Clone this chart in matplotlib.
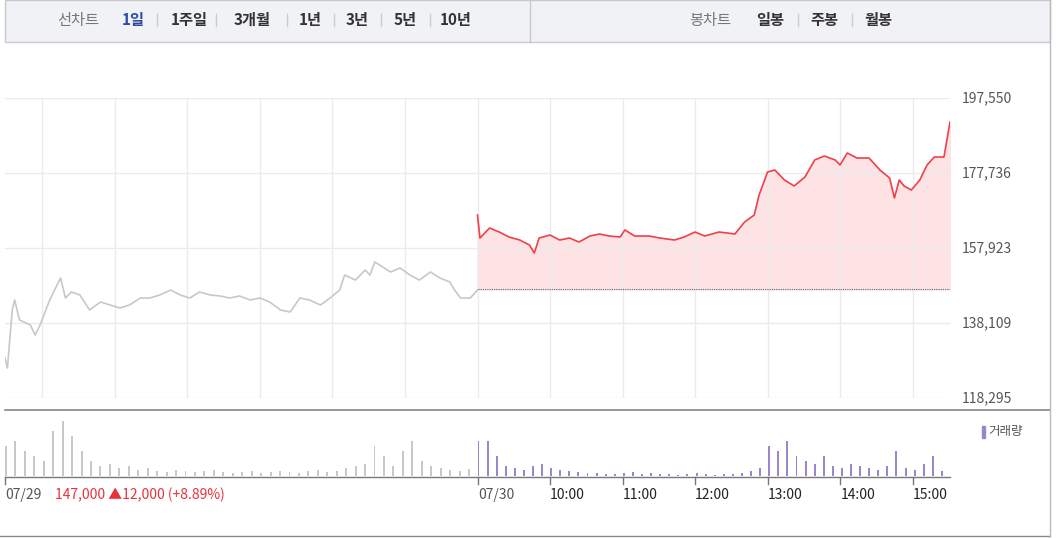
import matplotlib
matplotlib.use("Agg")
import matplotlib.pyplot as plt
from matplotlib.patches import Rectangle
from matplotlib.lines import Line2D

plt.rcParams['font.family'] = ['Noto Sans CJK KR', 'DejaVu Sans']

# minutes from 07/30 09:00 (day 2), prices
day2_min = [0, 2, 10, 18, 26, 35, 43, 47, 51, 60, 68, 76, 84, 93, 101, 109, 118, 122, 130, 142,
            151, 163, 171, 180, 188, 200, 213, 221, 229, 233, 240, 246, 254, 262, 271, 279, 287,
            296, 300, 306, 314, 324, 333, 341, 345, 349, 353, 359, 366, 372, 378, 386, 391]
day2_price = [166640, 160560, 163200, 162150, 160830, 160030, 158710, 156600, 160560, 161350,
              160030, 160560, 159500, 161090, 161620, 161090, 160830, 162700, 161090, 161090,
              160560, 160030, 160830, 162150, 161090, 162150, 161620, 164790, 166640, 171920,
              178000, 178530, 175890, 174300, 176680, 181170, 182230, 181170, 179850, 183020,
              181700, 181700, 178530, 176410, 171130, 175890, 174300, 173240, 175890, 179850,
              181960, 181960, 191210]
# minutes from 07/29 09:00 (day 1)
day1_min = [0, 2, 6, 8, 12, 21, 25, 29, 37, 41, 46, 50, 55, 62, 70, 79, 87, 95, 103, 112, 120,
            128, 137, 145, 153, 161, 170, 178, 186, 194, 203, 211, 219, 228, 236, 244, 252, 261,
            269, 277, 281, 290, 298, 302, 306, 310, 319, 327, 335, 343, 352, 360, 368, 372, 377,
            385, 391]
day1_price = [128860, 126220, 141540, 144180, 138900, 137570, 134930, 137570, 144180, 146820,
              149990, 144710, 146300, 145500, 141540, 143660, 142860, 142070, 142860, 144710,
              144710, 145500, 146820, 145500, 144710, 146300, 145500, 145240, 144710, 145240,
              144180, 144710, 143660, 141540, 141010, 144710, 144180, 142860, 144710, 146820,
              150790, 149460, 152100, 150790, 154220, 153430, 151580, 152640, 150790, 149460,
              151580, 149990, 148940, 146820, 144710, 144710, 146820]
prev_close = 147000
y_ticks = [197550, 177736, 157923, 138109, 118295]

vol1 = [30, 35, 25, 20, 15, 45, 55, 40, 25, 15, 10, 12, 8, 10, 6, 8, 5, 4, 6, 5, 4, 5, 6, 4, 3,
        4, 5, 3, 4, 5, 4, 3, 5, 6, 4, 5, 8, 10, 12, 30, 20, 10, 25, 35, 15, 10, 8, 6, 5, 7]
vol2 = [35, 35, 20, 10, 8, 6, 10, 12, 8, 6, 5, 4, 3, 3, 2, 2, 3, 4, 2, 3, 2, 2, 1, 2, 3, 2, 1, 2,
        2, 3, 5, 8, 30, 25, 35, 20, 15, 12, 20, 10, 8, 12, 10, 8, 6, 10, 25, 8, 6, 12, 20, 5]
time_labels = ["10:00", "11:00", "12:00", "13:00", "14:00", "15:00"]

W, H = 1056, 538
fig = plt.figure(figsize=(W / 100, H / 100), dpi=100)


def box(x0, y0, x1, y1):
    return [x0 / W, 1 - y1 / H, (x1 - x0) / W, (y1 - y0) / H]


# header
fig.patches.append(Rectangle((5 / W, 1 - 42 / H), 1045 / W, 42 / H, transform=fig.transFigure,
                             facecolor="#f1f2f6", edgecolor="#c8c9cf", lw=1))
fig.add_artist(Line2D([530 / W, 530 / W], [1 - 42 / H, 1], color="#c8c9cf", lw=1))
tabs = [("선차트", 78, "#777777", "normal"), ("1일", 133, "#2e4aa8", "bold"),
        ("1주일", 189, "#333333", "bold"), ("3개월", 252, "#333333", "bold"),
        ("1년", 310, "#333333", "bold"), ("3년", 357, "#333333", "bold"),
        ("5년", 405, "#333333", "bold"), ("10년", 456, "#333333", "bold"),
        ("봉차트", 710, "#777777", "normal"), ("일봉", 770, "#333333", "bold"),
        ("주봉", 824, "#333333", "bold"), ("월봉", 878, "#333333", "bold")]
for t, x, c, w in tabs:
    fig.text(x / W, 1 - 20 / H, t, ha="center", va="center", fontsize=11, color=c, weight=w)
for x in [157, 216, 287, 334, 381, 430, 798, 852]:
    fig.add_artist(Line2D([x / W] * 2, [1 - 26 / H, 1 - 14 / H], color="#cccccc", lw=1))

# price pane
day1_x = [m - 391 for m in day1_min]
ax = fig.add_axes(box(5, 98, 950, 398))
ax.set_xlim(-391, 391)
ax.set_ylim(y_ticks[-1], y_ticks[0])
for v in y_ticks:
    ax.axhline(v, color="#ebebeb", lw=1)
    fig.text(962 / W, 1 - (98 + (y_ticks[0] - v) / (y_ticks[0] - y_ticks[-1]) * 300) / H,
             f"{v:,}", fontsize=10, color="#555555", va="center")
for k in range(-6, 7):
    ax.axvline(k * 60, color="#ebebeb", lw=1)
ax.plot(day1_x, day1_price, color="#c8c8c8", lw=1.2)
ax.plot(day2_min, day2_price, color="#f0404a", lw=1.2)
ax.fill_between(day2_min, day2_price, prev_close, color="#fde3e4")
ax.plot([0, 391], [prev_close, prev_close], color="#666666", lw=0.8, ls=(0, (1, 1)))
ax.axis("off")

fig.add_artist(Line2D([5 / W, 1050 / W], [1 - 410 / H] * 2, color="#888888", lw=1.2))

# volume pane
vax = fig.add_axes(box(5, 418, 950, 476))
vax.set_xlim(-391, 391)
vax.set_ylim(0, 58)
step1 = 391 / len(vol1)
step2 = 391 / len(vol2)
vax.bar([-391 + i * step1 for i in range(len(vol1))], vol1, width=1.6, color="#c8c8c8", align="edge")
vax.bar([i * step2 for i in range(len(vol2))], vol2, width=1.6, color="#9a86cf", align="edge")
vax.axis("off")
fig.add_artist(Line2D([5 / W, 950 / W], [1 - 477 / H] * 2, color="#777777", lw=1))
for x in [5, 478, 550, 623, 695, 768, 840, 913]:
    fig.add_artist(Line2D([x / W] * 2, [1 - 484 / H, 1 - 477 / H], color="#777777", lw=1))
fig.text(988 / W, 1 - 432 / H, "거래량", fontsize=9, color="#555555", va="center")
fig.patches.append(Rectangle((982 / W, 1 - 438 / H), 3 / W, 12 / H, transform=fig.transFigure,
                             color="#9a86cf"))

fig.text(5 / W, 1 - 495 / H, "07/29", fontsize=10, color="#555555", va="center")
fig.text(55 / W, 1 - 495 / H, "147,000 ▲12,000 (+8.89%)", fontsize=10, color="#e8323c", va="center")
fig.text(478 / W, 1 - 495 / H, "07/30", fontsize=10, color="#555555", va="center")
for i, t in enumerate(time_labels):
    fig.text((550 + i * 72.6) / W, 1 - 495 / H, t, fontsize=10, color="#222222", va="center", ha="left")
fig.add_artist(Line2D([0, 1050 / W], [1 - 536 / H] * 2, color="#888888", lw=1))
fig.add_artist(Line2D([1050 / W] * 2, [1 - 536 / H, 1], color="#bbbbbb", lw=1))

fig.savefig("out.png", dpi=100)
